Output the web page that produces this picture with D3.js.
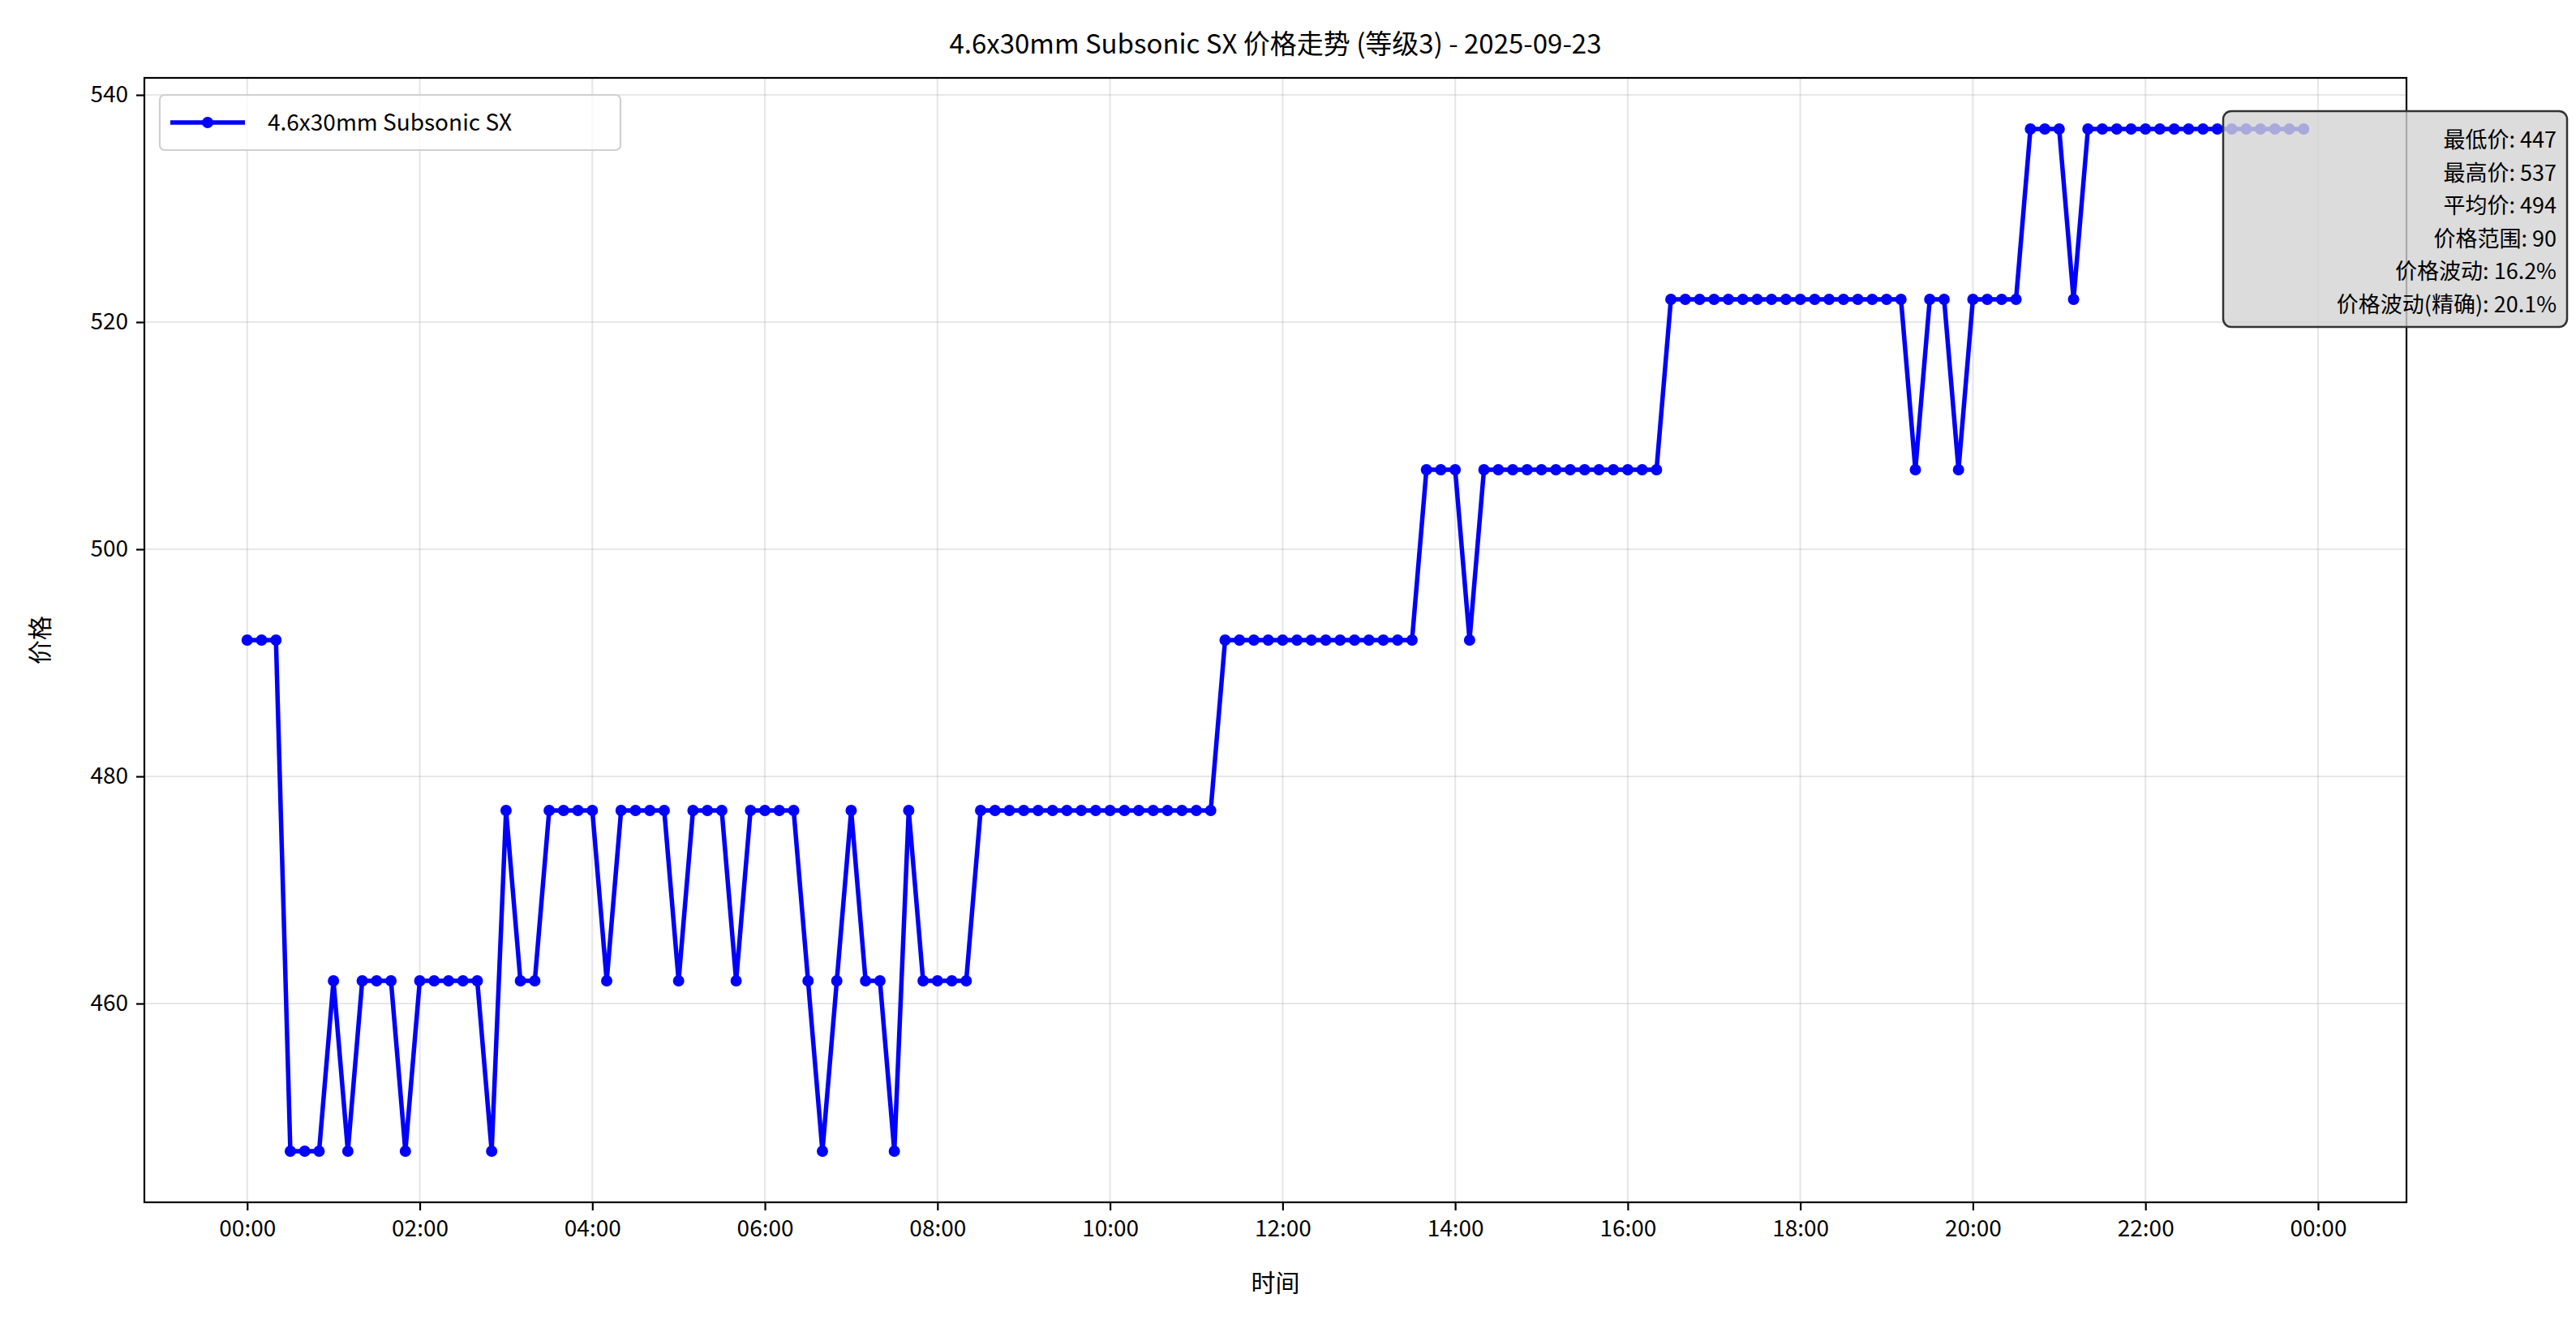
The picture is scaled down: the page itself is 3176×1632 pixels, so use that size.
<!DOCTYPE html>
<html>
<head>
<meta charset="utf-8">
<script src="https://cdn.jsdelivr.net/npm/d3@7"></script>
<style>
  body { margin: 0; background: #fff; }
  text { font-family: "Noto Sans CJK SC", sans-serif; }
</style>
</head>
<body>
<svg id="chart" width="3176" height="1632"></svg>
<script>
// price every 10 minutes, 00:00 .. 23:50
var prices = [
  492,492,492,447,447,447,462,447,462,462,462,447,   // 00:00-01:50
  462,462,462,462,462,447,477,462,462,477,477,477,   // 02:00-03:50
  477,462,477,477,477,477,462,477,477,477,462,477,   // 04:00-05:50
  477,477,477,462,447,462,477,462,462,447,477,462,   // 06:00-07:50
  462,462,462,477,477,477,477,477,477,477,477,477,   // 08:00-09:50
  477,477,477,477,477,477,477,477,492,492,492,492,   // 10:00-11:50
  492,492,492,492,492,492,492,492,492,492,507,507,   // 12:00-13:50
  507,492,507,507,507,507,507,507,507,507,507,507,   // 14:00-15:50
  507,507,507,522,522,522,522,522,522,522,522,522,   // 16:00-17:50
  522,522,522,522,522,522,522,522,507,522,522,507,   // 18:00-19:50
  522,522,522,522,537,537,537,522,537,537,537,537,   // 20:00-21:50
  537,537,537,537,537,537,537,537,537,537,537,537    // 22:00-23:50
];
var times = prices.map(function (d, i) { return i * 10; }); // minutes
var yTicks = [460, 480, 500, 520, 540];
var xTicks = [0, 120, 240, 360, 480, 600, 720, 840, 960, 1080, 1200, 1320, 1440];
var statLines = ["最低价: 447", "最高价: 537", "平均价: 494", "价格范围: 90", "价格波动: 16.2%", "价格波动(精确): 20.1%"];
var seriesName = "4.6x30mm Subsonic SX";
var title = "4.6x30mm Subsonic SX 价格走势 (等级3) - 2025-09-23";

(function () {
var svg = d3.select("#chart");
var pl = 178, pr = 2967, pt = 96, pb = 1482;

var span = d3.max(times) - d3.min(times);
var x = d3.scaleLinear()
    .domain([-span * 0.05, d3.max(times) + span * 0.05])
    .range([pl, pr]);
var yr = d3.max(prices) - d3.min(prices);
var y = d3.scaleLinear()
    .domain([d3.min(prices) - yr * 0.05, d3.max(prices) + yr * 0.05])
    .range([pb, pt]);

function hhmm(m) {
    var h = Math.floor(m / 60) % 24;
    return (h < 10 ? "0" : "") + h + ":00";
}

// grid
svg.append("g").selectAll("line").data(xTicks).enter().append("line")
    .attr("x1", function (d) { return x(d); }).attr("x2", function (d) { return x(d); })
    .attr("y1", pt).attr("y2", pb)
    .attr("stroke", "#b0b0b0").attr("stroke-opacity", 0.3).attr("stroke-width", 2.2);
svg.append("g").selectAll("line").data(yTicks).enter().append("line")
    .attr("x1", pl).attr("x2", pr)
    .attr("y1", function (d) { return y(d); }).attr("y2", function (d) { return y(d); })
    .attr("stroke", "#b0b0b0").attr("stroke-opacity", 0.3).attr("stroke-width", 2.2);

// axes
var xAxis = svg.append("g").attr("transform", "translate(0," + pb + ")")
    .call(d3.axisBottom(x).tickValues(xTicks).tickFormat(hhmm).tickSize(10).tickPadding(12));
var yAxis = svg.append("g").attr("transform", "translate(" + pl + ",0)")
    .call(d3.axisLeft(y).tickValues(yTicks).tickSize(10).tickPadding(10));
[xAxis, yAxis].forEach(function (a) {
    a.select(".domain").remove();
    a.selectAll("line").attr("stroke", "#000").attr("stroke-width", 2.2);
    a.selectAll("text").attr("font-size", 28).attr("fill", "#000")
        .style("font-family", "'Noto Sans CJK SC', sans-serif");
});

// line + markers
var line = d3.line()
    .x(function (d, i) { return x(times[i]); })
    .y(function (d) { return y(d); });
svg.append("path").datum(prices)
    .attr("d", line).attr("fill", "none")
    .attr("stroke", "#0000ff").attr("stroke-width", 5.5).attr("stroke-linejoin", "round");
svg.append("g").selectAll("circle").data(prices).enter().append("circle")
    .attr("cx", function (d, i) { return x(times[i]); })
    .attr("cy", function (d) { return y(d); })
    .attr("r", 7).attr("fill", "#0000ff");

// frame
svg.append("rect").attr("x", pl).attr("y", pt)
    .attr("width", pr - pl).attr("height", pb - pt)
    .attr("fill", "none").attr("stroke", "#000").attr("stroke-width", 2.2);

// labels
svg.append("text").attr("x", (pl + pr) / 2).attr("y", 66)
    .attr("text-anchor", "middle").attr("font-size", 33).text(title);
svg.append("text").attr("x", (pl + pr) / 2).attr("y", 1592)
    .attr("text-anchor", "middle").attr("font-size", 30).text("时间");
svg.append("text").attr("transform", "translate(60," + (pt + pb) / 2 + ") rotate(-90)")
    .attr("text-anchor", "middle").attr("font-size", 30).text("价格");

// legend
var lg = svg.append("g");
lg.append("rect").attr("x", 197).attr("y", 117).attr("width", 568).attr("height", 68)
    .attr("rx", 6).attr("fill", "#fff").attr("fill-opacity", 0.8)
    .attr("stroke", "#d0d0d0").attr("stroke-width", 2.2);
lg.append("line").attr("x1", 210).attr("x2", 302).attr("y1", 151).attr("y2", 151)
    .attr("stroke", "#0000ff").attr("stroke-width", 5.5);
lg.append("circle").attr("cx", 256).attr("cy", 151).attr("r", 7).attr("fill", "#0000ff");
lg.append("text").attr("x", 330).attr("y", 161).attr("font-size", 28).text(seriesName);

// stats box
var sb = svg.append("g");
sb.append("rect").attr("x", 2741).attr("y", 137).attr("width", 424).attr("height", 266)
    .attr("rx", 10).attr("fill", "#d3d3d3").attr("fill-opacity", 0.8)
    .attr("stroke", "#333").attr("stroke-width", 2.5);
sb.selectAll("text.stat").data(statLines).enter().append("text")
    .attr("class", "stat")
    .attr("x", 3152).attr("y", function (d, i) { return 182 + i * 40.6; })
    .attr("text-anchor", "end").attr("font-size", 27).text(function (d) { return d; });
})();
</script>
</body>
</html>
